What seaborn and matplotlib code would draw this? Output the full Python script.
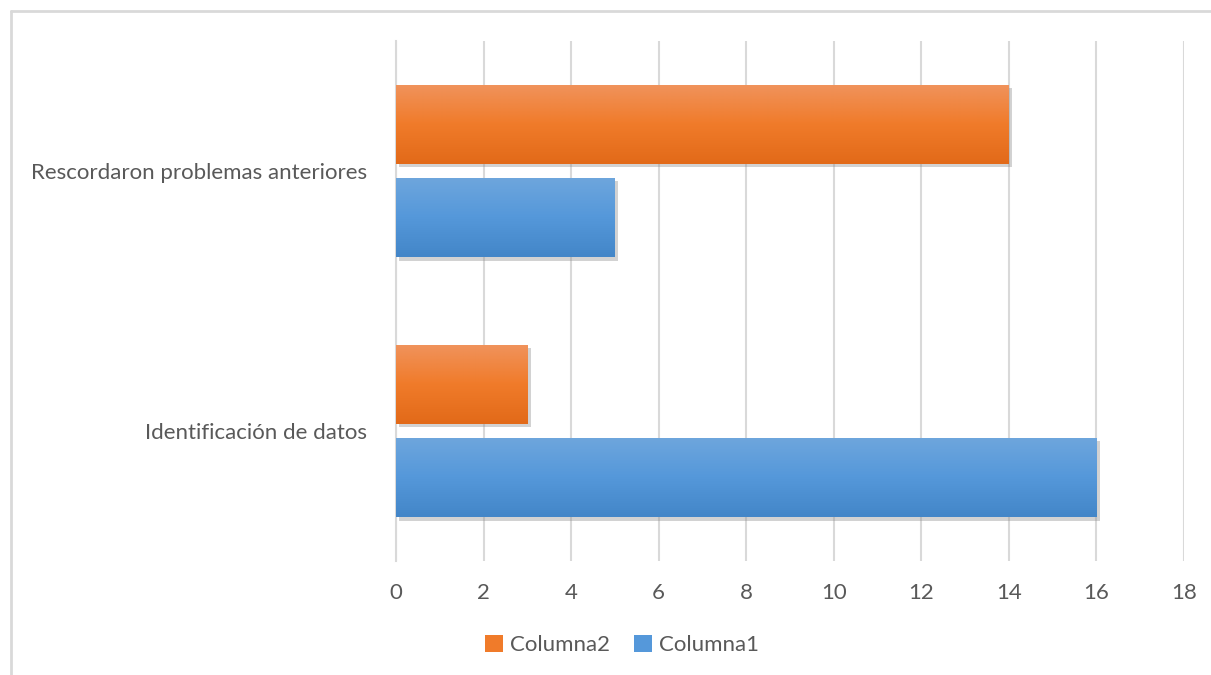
import matplotlib
matplotlib.use("Agg")
import matplotlib.pyplot as plt
import matplotlib.patheffects as pe
from matplotlib.lines import Line2D
from matplotlib.colors import LinearSegmentedColormap
import numpy as np
import pandas as pd
import seaborn as sns

categories = ["Rescordaron problemas anteriores", "Identificación de datos"]
series_names = ["Columna2", "Columna1"]
columna2 = [14, 3]
columna1 = [5, 16]
x_ticks = [0, 2, 4, 6, 8, 10, 12, 14, 16, 18]

df = pd.DataFrame({
    "cat": categories * 2,
    "serie": [series_names[0]] * 2 + [series_names[1]] * 2,
    "val": columna2 + columna1,
})

sns.set_theme(style="white")
plt.rcParams["font.family"] = ["Lato", "DejaVu Sans"]
text_color = "#595959"
grid_color = "#D9D9D9"
fs = 16

fig = plt.figure(figsize=(12.11, 6.75), dpi=100)
ax = fig.add_axes([396 / 1211, 1 - 561 / 675, (1184 - 396) / 1211, (561 - 41) / 675])

palette = {"Columna2": "#F07B2A", "Columna1": "#5598DA"}
sns.barplot(data=df, y="cat", x="val", hue="serie", order=categories,
            hue_order=series_names, palette=palette, orient="h",
            width=0.716, gap=0.15, ax=ax, saturation=1, legend=True,
            edgecolor="none", zorder=3)

grads = {
    "Columna2": ["#F0935C", "#F07B2A", "#E26A19"],
    "Columna1": ["#6EA6DD", "#5598DA", "#4386C8"],
}
for container, name in zip(ax.containers, series_names):
    cmap = LinearSegmentedColormap.from_list(name, grads[name])
    for bar in container:
        bar.set_path_effects([pe.SimplePatchShadow(offset=(2.5, -2.5), shadow_rgbFace="#8F8F8F", alpha=0.4, rho=0.5), pe.Normal()])
        x0, y0 = bar.get_x(), bar.get_y()
        w, h = bar.get_width(), bar.get_height()
        grad = np.linspace(0, 1, 100).reshape(-1, 1)
        im = ax.imshow(grad, cmap=cmap, aspect="auto", origin="upper",
                       extent=[x0, x0 + w, y0 + h, y0], zorder=4, interpolation="bilinear")
        im.set_clip_path(bar)

ax.set_xlim(0, 18)
ax.set_ylim(1.5, -0.5)
ax.set_xticks(x_ticks)
ax.set_xticklabels([str(t) for t in x_ticks])
ax.xaxis.grid(True, color=grid_color, linewidth=1.5, zorder=0)
ax.set_axisbelow(True)
for s in ["top", "right", "bottom"]:
    ax.spines[s].set_visible(False)
ax.spines["left"].set_color(grid_color)
ax.spines["left"].set_linewidth(1.5)
ax.set_xlabel("")
ax.set_ylabel("")
ax.tick_params(axis="both", length=0, labelsize=fs, colors=text_color)
ax.tick_params(axis="x", pad=16)
ax.tick_params(axis="y", pad=21)

leg = ax.legend(loc="center", frameon=False,
                ncol=2, fontsize=fs, handlelength=0.8, handleheight=0.8,
                handletextpad=0.3, columnspacing=1.1, labelcolor=text_color)
leg.set_bbox_to_anchor((622 / 1211, 1 - 645 / 675), transform=fig.transFigure)

bx, by = 11 / 1211, 1 - 11 / 675
fig.add_artist(Line2D([bx, 1.0], [by, by], transform=fig.transFigure, color=grid_color, linewidth=2.0))
fig.add_artist(Line2D([bx, bx], [0.0, by], transform=fig.transFigure, color=grid_color, linewidth=2.0))

fig.savefig("out.png", dpi=100)
